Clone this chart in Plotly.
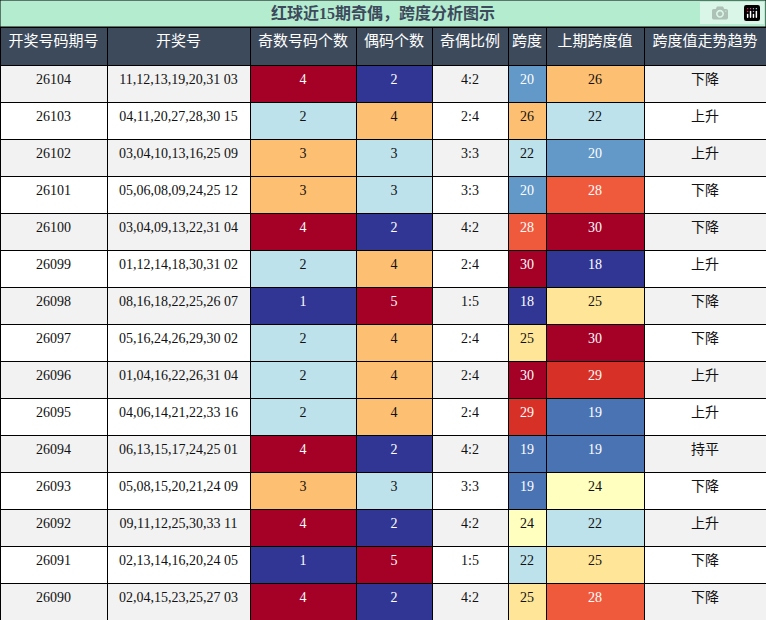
import plotly.graph_objects as go

periods = ["26104", "26103", "26102", "26101", "26100", "26099", "26098", "26097",
           "26096", "26095", "26094", "26093", "26092", "26091", "26090"]
numbers = ["11,12,13,19,20,31 03", "04,11,20,27,28,30 15", "03,04,10,13,16,25 09",
           "05,06,08,09,24,25 12", "03,04,09,13,22,31 04", "01,12,14,18,30,31 02",
           "08,16,18,22,25,26 07", "05,16,24,26,29,30 02", "01,04,16,22,26,31 04",
           "04,06,14,21,22,33 16", "06,13,15,17,24,25 01", "05,08,15,20,21,24 09",
           "09,11,12,25,30,33 11", "02,13,14,16,20,24 05", "02,04,15,23,25,27 03"]
odd_count = [4, 2, 3, 3, 4, 2, 1, 2, 2, 2, 4, 3, 4, 1, 4]
even_count = [2, 4, 3, 3, 2, 4, 5, 4, 4, 4, 2, 3, 2, 5, 2]
span = [20, 26, 22, 20, 28, 30, 18, 25, 30, 29, 19, 19, 24, 22, 25]
prev_span = [26, 22, 20, 28, 30, 18, 25, 30, 29, 19, 19, 24, 22, 25, 28]
trend = ["下降", "上升", "上升", "下降", "下降", "上升", "下降", "下降",
         "上升", "上升", "持平", "下降", "上升", "下降", "下降"]
headers = ["开奖号码期号", "开奖号", "奇数号码个数", "偶码个数", "奇偶比例",
           "跨度", "上期跨度值", "跨度值走势趋势"]

ODD_COLORS = {1: "#313695", 2: "#bde2ec", 3: "#fdbf71", 4: "#a50026", 5: "#a50026"}
EVEN_COLORS = {1: "#313695", 2: "#313695", 3: "#bde2ec", 4: "#fdbf71", 5: "#a50026"}
SPAN_COLORS = {18: "#313695", 19: "#4a73b4", 20: "#6399c8", 22: "#bde2ec", 24: "#ffffbf",
               25: "#fee597", 26: "#fdbf71", 28: "#ef5a3c", 29: "#d73027", 30: "#a50026"}
DARK = {"#313695", "#a50026", "#4a73b4", "#6399c8", "#ef5a3c", "#d73027"}

zebra = ["#f2f2f2" if i % 2 == 0 else "#ffffff" for i in range(len(periods))]
fills = [
    zebra, zebra,
    [ODD_COLORS[v] for v in odd_count],
    [EVEN_COLORS[v] for v in even_count],
    zebra,
    [SPAN_COLORS[v] for v in span],
    [SPAN_COLORS[v] for v in prev_span],
    zebra,
]
font_colors = [["#ffffff" if c in DARK else "#111111" for c in col] for col in fills]

ratio = [f"{o}:{e}" for o, e in zip(odd_count, even_count)]
values = [periods, numbers, odd_count, even_count, ratio, span, prev_span, trend]

FONT = "Liberation Serif, Noto Sans CJK SC"
TITLE_H = 27 / 620

fig = go.Figure(go.Table(
    columnwidth=[107, 143, 106, 76, 76, 38, 98, 122],
    header=dict(
        values=headers,
        fill_color="#3d4a5c",
        line=dict(color="#000000", width=1),
        font=dict(color="white", size=15, family="Noto Sans CJK SC"),
        align="center",
        height=38,
    ),
    cells=dict(
        values=values,
        fill_color=fills,
        line=dict(color="#000000", width=1),
        font=dict(color=font_colors, size=14, family=FONT),
        align="center",
        height=37,
    ),
    domain=dict(x=[0, 1], y=[0, 1 - TITLE_H]),
))

fig.update_layout(
    width=766, height=620,
    margin=dict(l=0, r=0, t=0, b=0),
    paper_bgcolor="white",
    shapes=[dict(type="rect", xref="paper", yref="paper", x0=0, x1=1,
                 y0=1 - TITLE_H, y1=1, fillcolor="#b4ecd0",
                 line=dict(color="#000000", width=1))],
    annotations=[dict(text="<b>红球近15期奇偶，跨度分析图示</b>", xref="paper", yref="paper",
                      x=0.5, y=1 - TITLE_H / 2, yanchor="middle", showarrow=False,
                      font=dict(size=16, color="#3d4a5c", family=FONT))],
)

# drop the browser's default body margin so the figure sits at the page corner
fig.write_html("out.html", post_script="document.body.style.margin='0';")
